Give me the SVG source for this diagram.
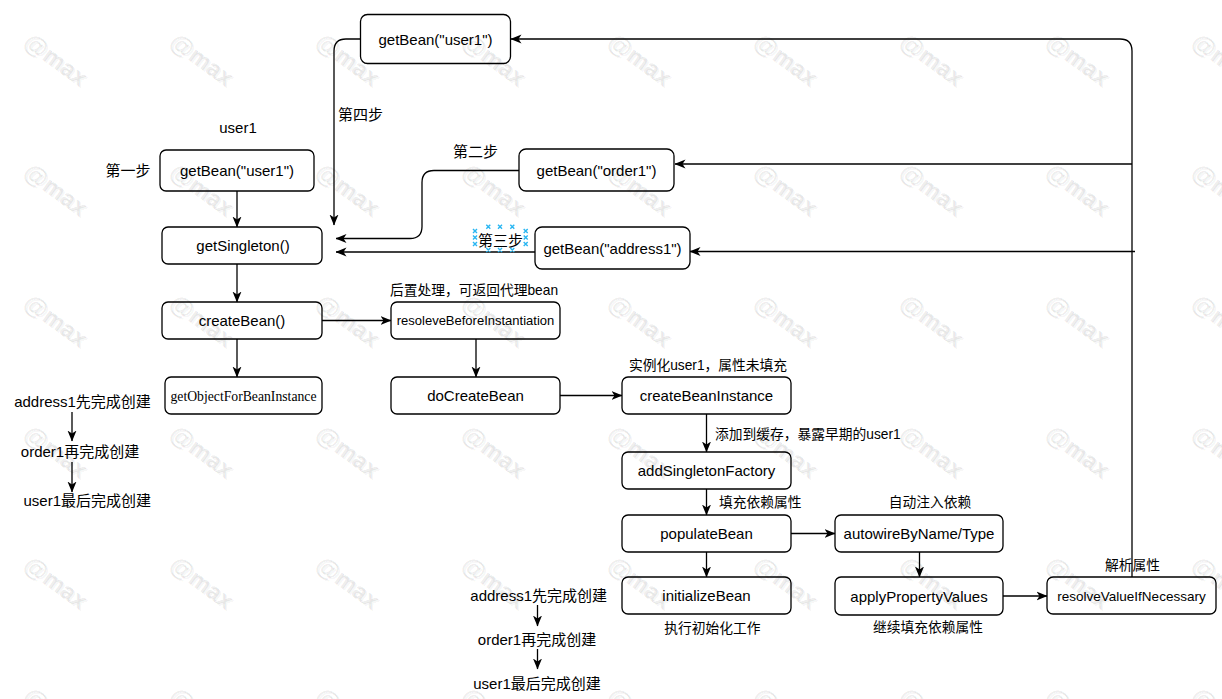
<svg xmlns="http://www.w3.org/2000/svg" xmlns:xlink="http://www.w3.org/1999/xlink" width="1222" height="699" viewBox="0 0 1222 699">
<style>
.node rect{fill:#fff;stroke:#000;stroke-width:1.3}
.t{font-family:"Liberation Sans","Noto Sans CJK SC",Arial,sans-serif;font-size:15px;fill:#000}
.s{font-family:"Liberation Sans","Noto Sans CJK SC",Arial,sans-serif;font-size:13.75px;fill:#000}
.m{text-anchor:middle}
.serif{font-family:"Liberation Serif","Times New Roman",serif;font-size:13.7px;fill:#000}
.c path{fill:none;stroke:#000;stroke-width:1.3;marker-end:url(#arr)}
.wm{font-family:"Liberation Sans",Arial,sans-serif;font-size:24px;font-weight:bold}
.x path{stroke:#29b6f2;stroke-width:1.4;fill:none}
</style>
<defs>
<marker id="arr" viewBox="0 0 11 10" refX="10.5" refY="5" markerWidth="11" markerHeight="10" markerUnits="userSpaceOnUse" orient="auto">
<path d="M0,0.5 L11,5 L0,9.5 L3,5 Z" fill="#000"/>
</marker>
<g id="wm">
<text class="wm" x="3.5" y="18.5" transform="rotate(36 3.5 18.5)" fill="#000" fill-opacity="0.05">@max</text>
<text class="wm" x="2" y="17" transform="rotate(36 2 17)" fill="#000" fill-opacity="0.08">@max</text>
</g>
</defs>
<rect width="1222" height="699" fill="#fff"/>

<g id="connectors" class="c">
<path d="M360,39 H346 Q334,39 334,51 V225"/>
<path d="M237,191 V227"/>
<path d="M519,170.5 H434 Q422,170.5 422,182.5 V226.5 Q422,238.5 410,238.5 H336"/>
<path d="M535,252 H336"/>
<path d="M237,264 V302"/>
<path d="M237,339 V377"/>
<path d="M322,320.5 H391"/>
<path d="M476,339 V377"/>
<path d="M560,395.5 H622"/>
<path d="M706.5,414 V452"/>
<path d="M706.5,489 V515"/>
<path d="M791,533.5 H835"/>
<path d="M706.5,552 V577"/>
<path d="M919.5,552 V577"/>
<path d="M1003,596 H1047"/>
<path d="M1132,577 V51 Q1132,39 1120,39 H511"/>
<path d="M1132,164 H675"/>
<path d="M1135,251.5 H690"/>
<path d="M72,412 V441"/>
<path d="M72,462 V492"/>
<path d="M537.5,605 V626"/>
<path d="M537.5,649 V669"/>
</g>

<g id="n-getbean-user1-top" class="node"><rect x="360.5" y="14.5" width="150" height="49" rx="7"/><text class="t m" x="435.5" y="44.5">getBean("user1")</text></g>
<g id="n-getbean-user1" class="node"><rect x="160" y="150" width="154" height="41" rx="6"/><text class="t m" x="237" y="176">getBean("user1")</text></g>
<g id="n-getsingleton" class="node"><rect x="162" y="227" width="160" height="37" rx="6"/><text class="t m" x="243" y="251">getSingleton()</text></g>
<g id="n-createbean" class="node"><rect x="162" y="302" width="160" height="37" rx="6"/><text class="t m" x="242" y="326">createBean()</text></g>
<g id="n-getobject" class="node"><rect x="165" y="377" width="157" height="37" rx="6"/><text class="serif m" x="243.5" y="400.5">getObjectForBeanInstance</text></g>
<g id="n-resoleve" class="node"><rect x="391" y="302" width="169" height="37" rx="6"/><text class="t m" x="475.5" y="325" style="font-size:13px">resoleveBeforeInstantiation</text></g>
<g id="n-docreatebean" class="node"><rect x="391" y="377" width="169" height="37" rx="6"/><text class="t m" x="475.5" y="401">doCreateBean</text></g>
<g id="n-createbeaninstance" class="node"><rect x="622" y="377" width="169" height="37" rx="6"/><text class="t m" x="706.5" y="401">createBeanInstance</text></g>
<g id="n-addsingletonfactory" class="node"><rect x="622" y="452" width="169" height="37" rx="6"/><text class="t m" x="706.5" y="476">addSingletonFactory</text></g>
<g id="n-populatebean" class="node"><rect x="622" y="515" width="169" height="37" rx="6"/><text class="t m" x="706.5" y="539">populateBean</text></g>
<g id="n-initializebean" class="node"><rect x="622" y="577" width="169" height="37" rx="6"/><text class="t m" x="706.5" y="601">initializeBean</text></g>
<g id="n-autowire" class="node"><rect x="835" y="515" width="168" height="37" rx="6"/><text class="t m" x="919" y="539">autowireByName/Type</text></g>
<g id="n-applyproperty" class="node"><rect x="835" y="577" width="168" height="38" rx="6"/><text class="t m" x="919" y="601.5">applyPropertyValues</text></g>
<g id="n-resolvevalue" class="node"><rect x="1047" y="577" width="169" height="37" rx="6"/><text class="t m" x="1131.5" y="600.5" style="font-size:13.5px">resolveValueIfNecessary</text></g>
<g id="n-getbean-order1" class="node"><rect x="519" y="149" width="155" height="42" rx="7"/><text class="t m" x="596.5" y="175.5">getBean("order1")</text></g>
<g id="n-getbean-address1" class="node"><rect x="535" y="227" width="155" height="42" rx="7"/><text class="t m" x="612.5" y="253.5">getBean("address1")</text></g>

<g id="labels">
<text class="t m" x="238" y="133">user1</text>
<text class="t m" x="128" y="176">第一步</text>
<text class="t" x="338" y="120">第四步</text>
<text class="t" x="453" y="157">第二步</text>
<text class="t" x="478" y="246">第三步</text>
<text class="s m" x="474" y="295">后置处理，可返回代理bean</text>
<text class="s m" x="708" y="370">实例化user1，属性未填充</text>
<text class="s" x="715" y="439">添加到缓存，暴露早期的user1</text>
<text class="s" x="719" y="507">填充依赖属性</text>
<text class="s m" x="930" y="507">自动注入依赖</text>
<text class="s m" x="1132.5" y="570">解析属性</text>
<text class="s m" x="928" y="632">继续填充依赖属性</text>
<text class="s m" x="712.5" y="633">执行初始化工作</text>
<text class="t m" x="82.5" y="407">address1先完成创建</text>
<text class="t m" x="80" y="457">order1再完成创建</text>
<text class="t m" x="87.3" y="506">user1最后完成创建</text>
<text class="t m" x="538.7" y="601">address1先完成创建</text>
<text class="t m" x="537" y="645">order1再完成创建</text>
<text class="t m" x="537" y="689">user1最后完成创建</text>
</g>

<g id="selection-handles" class="x">
<path d="M486.3,224.7 l4,4 m0,-4 l-4,4 M498,224.7 l4,4 m0,-4 l-4,4 M510.3,224.7 l4,4 m0,-4 l-4,4"/>
<path d="M486.3,248 l4,4 m0,-4 l-4,4 M498,248 l4,4 m0,-4 l-4,4 M510.3,248 l4,4 m0,-4 l-4,4"/>
<path d="M473,229 l4,4 m0,-4 l-4,4 M473,235.5 l4,4 m0,-4 l-4,4 M473,242 l4,4 m0,-4 l-4,4"/>
<path d="M523.7,229 l4,4 m0,-4 l-4,4 M523.7,235.5 l4,4 m0,-4 l-4,4 M523.7,242 l4,4 m0,-4 l-4,4"/>
</g>

<g id="watermark">
<use xlink:href="#wm" x="20" y="28"/><use xlink:href="#wm" x="166" y="28"/><use xlink:href="#wm" x="312" y="28"/><use xlink:href="#wm" x="458" y="28"/><use xlink:href="#wm" x="604" y="28"/><use xlink:href="#wm" x="750" y="28"/><use xlink:href="#wm" x="896" y="28"/><use xlink:href="#wm" x="1042" y="28"/><use xlink:href="#wm" x="1188" y="28"/>
<use xlink:href="#wm" x="20" y="158"/><use xlink:href="#wm" x="166" y="158"/><use xlink:href="#wm" x="312" y="158"/><use xlink:href="#wm" x="458" y="158"/><use xlink:href="#wm" x="604" y="158"/><use xlink:href="#wm" x="750" y="158"/><use xlink:href="#wm" x="896" y="158"/><use xlink:href="#wm" x="1042" y="158"/><use xlink:href="#wm" x="1188" y="158"/>
<use xlink:href="#wm" x="20" y="289"/><use xlink:href="#wm" x="166" y="289"/><use xlink:href="#wm" x="312" y="289"/><use xlink:href="#wm" x="458" y="289"/><use xlink:href="#wm" x="604" y="289"/><use xlink:href="#wm" x="750" y="289"/><use xlink:href="#wm" x="896" y="289"/><use xlink:href="#wm" x="1042" y="289"/><use xlink:href="#wm" x="1188" y="289"/>
<use xlink:href="#wm" x="20" y="420"/><use xlink:href="#wm" x="166" y="420"/><use xlink:href="#wm" x="312" y="420"/><use xlink:href="#wm" x="458" y="420"/><use xlink:href="#wm" x="604" y="420"/><use xlink:href="#wm" x="750" y="420"/><use xlink:href="#wm" x="896" y="420"/><use xlink:href="#wm" x="1042" y="420"/><use xlink:href="#wm" x="1188" y="420"/>
<use xlink:href="#wm" x="20" y="551"/><use xlink:href="#wm" x="166" y="551"/><use xlink:href="#wm" x="312" y="551"/><use xlink:href="#wm" x="458" y="551"/><use xlink:href="#wm" x="604" y="551"/><use xlink:href="#wm" x="750" y="551"/><use xlink:href="#wm" x="896" y="551"/><use xlink:href="#wm" x="1042" y="551"/><use xlink:href="#wm" x="1188" y="551"/>
<use xlink:href="#wm" x="20" y="682"/><use xlink:href="#wm" x="166" y="682"/><use xlink:href="#wm" x="312" y="682"/><use xlink:href="#wm" x="458" y="682"/><use xlink:href="#wm" x="604" y="682"/><use xlink:href="#wm" x="750" y="682"/><use xlink:href="#wm" x="896" y="682"/><use xlink:href="#wm" x="1042" y="682"/><use xlink:href="#wm" x="1188" y="682"/>
</g>
</svg>
